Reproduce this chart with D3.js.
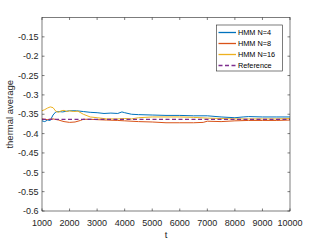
<!DOCTYPE html>
<html><head><meta charset="utf-8">
<script src="https://cdn.jsdelivr.net/npm/d3@7"></script>
<style>body{margin:0;background:#fff}svg{display:block}text{font-family:"Liberation Sans",Arial,sans-serif}</style>
</head><body><svg id="c" width="321" height="241"></svg>
<script>
const xTicks=[1000,2000,3000,4000,5000,6000,7000,8000,9000,10000];
const yTicks=[-0.6,-0.55,-0.5,-0.45,-0.4,-0.35,-0.3,-0.25,-0.2,-0.15];
const seriesNames=["HMM N=4","HMM N=8","HMM N=16","Reference"];
const tBlue=[1000,1100,1200,1300,1400,1500,1600,1750,1900,2000,2250,2500,2750,3000,3250,3500,3750,3900,4000,4250,4500,5000,5500,6000,6500,7000,7500,8000,8300,8500,9000,9500,10000];
const vBlue=[-0.367,-0.369,-0.365,-0.366,-0.352,-0.344,-0.343,-0.344,-0.342,-0.341,-0.341,-0.343,-0.345,-0.346,-0.348,-0.347,-0.348,-0.344,-0.346,-0.350,-0.351,-0.352,-0.353,-0.353,-0.354,-0.354,-0.357,-0.359,-0.357,-0.356,-0.357,-0.357,-0.357];
const tRed=[1000,1200,1400,1600,1800,2000,2200,2400,2500,2750,3000,3350,3750,4000,4500,5000,5500,6000,6500,6850,7000,7500,8000,8500,9000,9500,10000];
const vRed=[-0.362,-0.364,-0.362,-0.365,-0.369,-0.371,-0.370,-0.366,-0.363,-0.363,-0.364,-0.365,-0.366,-0.367,-0.369,-0.370,-0.372,-0.372,-0.372,-0.371,-0.368,-0.369,-0.367,-0.366,-0.366,-0.366,-0.365];
const tYellow=[1000,1100,1200,1300,1400,1500,1600,1700,1800,1900,2000,2150,2300,2500,2750,3000,3350,3750,4000,4250,4500,5000,5500,6000,6500,7000,7500,8000,8500,9000,9500,10000];
const vYellow=[-0.341,-0.338,-0.334,-0.331,-0.333,-0.342,-0.345,-0.341,-0.340,-0.343,-0.341,-0.343,-0.342,-0.350,-0.357,-0.359,-0.362,-0.362,-0.361,-0.362,-0.359,-0.357,-0.357,-0.357,-0.358,-0.360,-0.361,-0.362,-0.362,-0.362,-0.362,-0.361];
const tRef=[1000,10000];
const vRef=[-0.363,-0.363];
const colors=["#0072BD","#D95319","#EDB120","#7E2F8E"];

const svg=d3.select("#c");
const L=42,R=290,T=17.5,B=211;
const x=d3.scaleLinear().domain([1000,10000]).range([L,R]);
const y=d3.scaleLinear().domain([-0.6,-0.1]).range([B,T]);
const ax="#262626";
const g=svg.append("g");
// data lines
const sets=[[tBlue,vBlue],[tRed,vRed],[tYellow,vYellow],[tRef,vRef]];
const line=d3.line().x(d=>x(d[0])).y(d=>y(d[1]));
sets.forEach((s,i)=>{
  const pts=s[0].map((t,j)=>[t,s[1][j]]);
  g.append("path").attr("d",line(pts)).attr("fill","none").attr("stroke",colors[i])
   .attr("stroke-width",i==3?1.3:1).attr("stroke-dasharray",i==3?"4,2.5":null);
});
// box
g.append("rect").attr("x",L).attr("y",T).attr("width",R-L).attr("height",B-T).attr("fill","none").attr("stroke",ax).attr("stroke-width",0.6);
// ticks
const tl=2.5;
xTicks.forEach(v=>{
  g.append("line").attr("x1",x(v)).attr("x2",x(v)).attr("y1",B).attr("y2",B-tl).attr("stroke",ax).attr("stroke-width",0.6);
  g.append("line").attr("x1",x(v)).attr("x2",x(v)).attr("y1",T).attr("y2",T+tl).attr("stroke",ax).attr("stroke-width",0.6);
  g.append("text").attr("x",x(v)).attr("y",B+14.5).attr("text-anchor","middle").attr("font-size",9).attr("fill",ax).text(v);
});
yTicks.forEach(v=>{
  g.append("line").attr("x1",L).attr("x2",L+tl).attr("y1",y(v)).attr("y2",y(v)).attr("stroke",ax).attr("stroke-width",0.6);
  g.append("line").attr("x1",R).attr("x2",R-tl).attr("y1",y(v)).attr("y2",y(v)).attr("stroke",ax).attr("stroke-width",0.6);
  g.append("text").attr("x",L-3.5).attr("y",y(v)+3.2).attr("text-anchor","end").attr("font-size",9).attr("fill",ax).text(v);
});
g.append("text").attr("x",(L+R)/2).attr("y",238).attr("text-anchor","middle").attr("font-size",9.5).attr("fill",ax).text("t");
g.append("text").attr("transform",`translate(13,${(T+B)/2}) rotate(-90)`).attr("text-anchor","middle").attr("font-size",9.5).attr("fill",ax).text("thermal average");
// legend
const lg=svg.append("g");
lg.append("rect").attr("x",216.5).attr("y",25).attr("width",66).attr("height",46).attr("fill","#fff").attr("stroke",ax).attr("stroke-width",0.6);
seriesNames.forEach((n,i)=>{
  const yy=32.5+i*11;
  lg.append("line").attr("x1",218.5).attr("x2",236).attr("y1",yy).attr("y2",yy).attr("stroke",colors[i]).attr("stroke-width",1.3).attr("stroke-dasharray",i==3?"4,2.5":null);
  lg.append("text").attr("x",238).attr("y",yy+2.6).attr("font-size",7.3).attr("fill","#000").text(n);
});
</script></body></html>
